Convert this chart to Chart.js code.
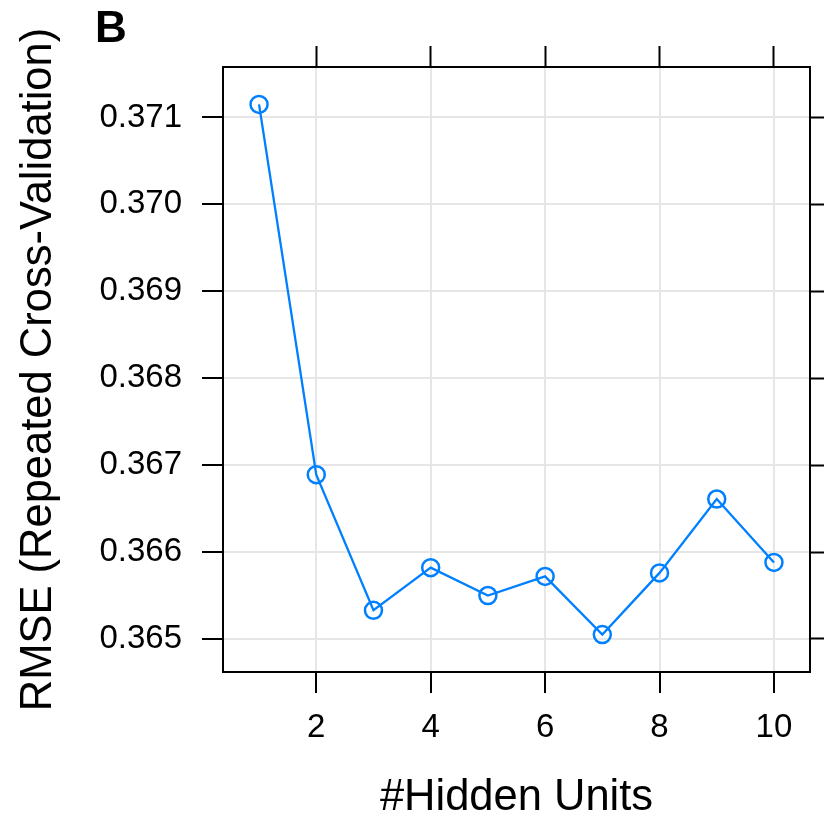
<!DOCTYPE html>
<html>
<head>
<meta charset="utf-8">
<title>RMSE vs hidden units</title>
<script src="https://cdn.jsdelivr.net/npm/chart.js@4/dist/chart.umd.min.js"></script>
<style>
  html, body { margin: 0; padding: 0; background: #ffffff; }
  #wrap { width: 824px; height: 821px; }
</style>
</head>
<body>
<div id="wrap"><canvas id="c" width="824" height="821"></canvas></div>
<script>
// Tuning results: number of hidden units vs. cross-validated RMSE
const hiddenUnits = [1, 2, 3, 4, 5, 6, 7, 8, 9, 10];
const rmse = [0.37115, 0.36689, 0.36533, 0.36582, 0.36550, 0.36572, 0.36505, 0.36576, 0.36661, 0.36588];

// Tick positions
const xTicks = [2, 4, 6, 8, 10];
const yTicks = [0.365, 0.366, 0.367, 0.368, 0.369, 0.370, 0.371];

// Axis limits (data range padded by 7% on each side)
const xMin = 0.37, xMax = 10.63;
const yMin = 0.36462, yMax = 0.37158;

const FONT = "'Liberation Sans', Arial, sans-serif";
const INK = '#000000';
const GRID = '#e6e6e6';
const LINE = '#0080ff';

const setTicks = (values) => (scale) => {
  scale.ticks = values.map(v => ({ value: v }));
};

// Panel letter in the upper-left corner
const panelLetter = {
  id: 'panelLetter',
  afterDraw(chart) {
    const ctx = chart.ctx;
    ctx.save();
    ctx.fillStyle = INK;
    ctx.font = "bold 44px " + FONT;
    ctx.textAlign = 'left';
    ctx.textBaseline = 'alphabetic';
    ctx.fillText('B', 95, 41.7);
    ctx.restore();
  }
};

new Chart(document.getElementById('c'), {
  type: 'line',
  data: {
    datasets: [{
      data: hiddenUnits.map((u, i) => ({ x: u, y: rmse[i] })),
      borderColor: LINE,
      borderWidth: 2.3,
      pointRadius: 8.5,
      pointBorderWidth: 2.5,
      pointBorderColor: LINE,
      pointBackgroundColor: 'rgba(0,0,0,0)',
      fill: false,
      tension: 0
    }]
  },
  options: {
    responsive: false,
    animation: false,
    layout: { padding: 0 },
    plugins: {
      legend: { display: false },
      tooltip: { enabled: false }
    },
    scales: {
      x: {
        type: 'linear',
        position: 'bottom',
        min: xMin,
        max: xMax,
        afterBuildTicks: setTicks(xTicks),
        afterFit: (s) => { s.height = 149; },
        grid: { color: GRID, lineWidth: 2, tickLength: 21, tickColor: INK, tickWidth: 2 },
        border: { display: true, color: INK, width: 2 },
        ticks: {
          color: INK,
          padding: 15,
          maxRotation: 0,
          font: { family: FONT, size: 33, lineHeight: 1.2 },
          callback: (v) => String(v)
        },
        title: {
          display: true,
          text: '#Hidden Units',
          color: INK,
          font: { family: FONT, size: 43.5, lineHeight: 1 },
          padding: { top: 0, bottom: 1 }
        }
      },
      x2: {
        type: 'linear',
        position: 'top',
        min: xMin,
        max: xMax,
        afterBuildTicks: setTicks(xTicks),
        afterFit: (s) => { s.height = 67; },
        grid: { drawOnChartArea: false, tickLength: 21, tickColor: INK, tickWidth: 2 },
        border: { display: true, color: INK, width: 2 },
        ticks: { display: false }
      },
      y: {
        type: 'linear',
        position: 'left',
        min: yMin,
        max: yMax,
        afterBuildTicks: setTicks(yTicks),
        afterFit: (s) => { s.width = 223; },
        grid: { color: GRID, lineWidth: 2, tickLength: 21, tickColor: INK, tickWidth: 2 },
        border: { display: true, color: INK, width: 2 },
        ticks: {
          color: INK,
          padding: 20,
          font: { family: FONT, size: 33 },
          callback: (v) => Number(v).toFixed(3)
        },
        title: {
          display: true,
          text: 'RMSE (Repeated Cross-Validation)',
          color: INK,
          font: { family: FONT, size: 43.5, lineHeight: 1 },
          padding: { top: 17.5, bottom: 0 }
        }
      },
      y2: {
        type: 'linear',
        position: 'right',
        min: yMin,
        max: yMax,
        afterBuildTicks: setTicks(yTicks),
        afterFit: (s) => { s.width = 14; },
        grid: { drawOnChartArea: false, tickLength: 21, tickColor: INK, tickWidth: 2 },
        border: { display: true, color: INK, width: 2 },
        ticks: { display: false }
      }
    }
  },
  plugins: [panelLetter]
});
</script>
</body>
</html>
